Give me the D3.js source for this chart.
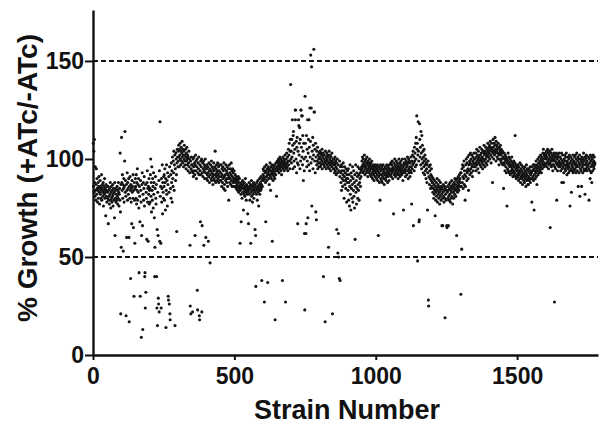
<!DOCTYPE html>
<html><head><meta charset="utf-8">
<script src="https://cdn.jsdelivr.net/npm/d3@7/dist/d3.min.js"></script>
<style>body{margin:0;background:#fff}svg{display:block}</style>
</head><body>
<svg id="c" width="613" height="425"></svg>
<script>
// % growth (+ATc/-ATc) per strain, in strain order (strain 1 .. N)
const growthA = [
108,86,104,83,110,88,81,96,84,79,87,95,82,90,85,78,84,88,80,86,91,83,77,85,89,82,86,80,84,92,79,85,87,83,81,88,76,84,86,82,90,80,85,83,71,87,81,84,78,86,
83,80,86,67,79,84,81,77,85,82,88,79,75,83,86,80,78,84,81,87,76,82,85,79,83,70,88,61,80,84,78,85,82,79,86,81,77,84,80,88,83,76,82,85,79,103,73,21,87,55,
111,88,84,92,80,87,53,85,90,78,86,99,114,83,89,81,20,87,60,84,93,79,88,85,82,90,60,17,86,80,91,84,39,87,78,85,67,89,83,86,80,92,65,84,30,88,79,57,85,90,
86,80,92,77,88,84,95,79,87,83,90,75,42,86,81,68,30,89,84,78,9,61,87,93,66,13,82,88,79,85,91,76,40,42,24,87,32,83,80,59,88,94,78,85,58,86,82,90,77,84,
85,78,92,100,81,88,73,96,84,79,90,86,75,93,82,88,70,40,55,85,91,80,77,87,40,24,64,15,83,61,29,26,89,22,94,58,119,81,86,57,24,90,78,85,97,72,88,83,80,91];
const growthB = [
86,92,79,95,88,74,90,14,84,97,82,89,76,93,87,30,28,91,83,26,96,21,18,85,92,80,98,88,94,78,101,90,86,99,93,104,84,97,102,15,95,89,103,100,92,63,98,105,101,96,
104,99,107,101,96,105,102,108,100,97,104,106,99,103,109,101,98,105,102,96,104,100,107,99,102,97,105,101,95,103,99,106,100,97,102,94,101,98,104,96,100,93,56,25,99,21,95,101,97,94,
97,22,93,100,91,96,101,94,98,92,61,97,102,94,99,90,96,100,33,23,93,98,95,101,92,20,18,97,94,68,99,92,96,100,22,66,93,98,91,95,99,56,94,97,90,96,100,93,60,95,
95,90,97,92,89,96,93,58,91,98,94,88,95,47,92,97,90,94,99,89,93,96,91,87,95,92,98,90,94,89,96,104,92,88,95,91,97,93,89,94,98,90,92,96,88,94,91,97,89,93,
93,89,97,91,86,95,92,88,96,90,94,85,98,91,87,95,84,92,89,97,90,94,88,93,96,86,92,90,95,79,91,97,88,93,90,95,87,92,98,89,94,86,91,95,88,93,90,86,94,89];
const growthC = [
90,88,92,86,89,91,85,88,90,87,84,89,86,91,83,88,85,90,86,57,84,87,82,68,88,85,80,86,89,83,87,74,85,82,88,84,81,86,90,83,85,79,87,84,82,86,72,83,85,67,
84,88,82,86,79,85,87,57,83,89,81,86,84,78,87,82,85,88,80,84,86,83,64,87,61,35,85,82,88,84,79,86,89,83,85,76,87,84,90,82,86,88,84,91,85,87,38,89,86,90,
92,95,89,94,91,27,96,90,93,88,68,94,97,91,89,95,92,37,93,96,90,94,87,95,92,98,91,84,94,96,90,93,97,58,92,95,89,94,96,91,93,97,90,18,95,92,98,94,81,96,
96,99,94,98,95,100,97,93,99,96,101,95,98,94,100,97,92,99,96,38,98,101,95,97,100,94,99,96,102,98,27,97,100,95,103,98,96,101,94,99,105,97,102,108,99,95,104,110,138,100,
104,98,110,101,120,107,95,112,114,103,99,108,96,105,125,120,125,100,109,93,106,111,98,67,104,97,120,117,102,108,116,95,110,99,125,125,106,122,101,122,97,112,104,89,108,100,94,62,23,132];
const growthD = [
108,101,62,67,112,96,105,99,120,70,103,110,97,120,106,94,126,101,109,153,98,126,147,76,104,100,111,95,107,102,156,124,124,99,105,93,108,73,101,69,97,104,99,106,95,102,98,100,96,103,
101,98,104,96,100,103,97,102,99,105,95,101,98,103,40,100,97,102,96,99,17,104,98,101,95,100,103,97,99,102,96,101,55,98,104,95,100,97,102,99,94,101,98,96,103,99,21,97,100,95,
98,95,100,93,97,101,94,99,96,92,98,64,95,100,93,52,97,62,50,94,39,99,91,38,96,93,88,97,84,94,90,96,86,92,98,89,94,80,91,96,87,93,89,85,95,90,78,92,88,94,
90,84,95,79,88,92,76,86,97,82,89,74,93,85,91,80,87,96,78,90,84,94,81,88,75,92,59,86,97,83,89,77,93,85,91,80,96,87,84,92,79,95,88,90,93,86,95,91,94,96,
99,95,101,97,93,100,96,98,94,102,97,92,99,95,100,96,93,98,101,94,97,91,99,95,98,93,96,100,94,97,92,98,95,91,96,99,93,95,90,97,94,92,96,89,95,93,97,91,94,96];
const growthE = [
93,96,90,95,92,97,89,94,61,91,96,93,88,95,79,92,97,90,94,89,96,92,88,95,91,97,93,90,94,87,95,92,96,90,93,89,95,91,97,92,94,88,96,91,93,95,89,97,92,94,
95,92,98,94,91,97,93,99,95,90,96,94,72,98,92,95,100,93,97,91,96,94,99,92,95,98,93,96,90,97,94,100,92,95,98,91,96,93,99,94,97,92,95,100,93,89,96,74,94,98,
97,93,100,95,91,98,94,99,96,92,97,101,94,98,90,100,95,93,99,96,91,98,94,101,96,93,77,99,95,102,97,104,66,98,101,94,106,99,103,96,108,100,111,97,122,105,108,48,102,119,
104,99,68,69,118,110,101,106,97,114,103,95,112,100,107,98,104,93,101,96,105,99,92,102,97,94,100,90,98,95,88,97,74,93,99,28,25,91,96,87,94,90,97,85,92,89,95,86,91,88,
88,83,90,85,80,87,82,89,84,71,86,79,83,88,81,85,90,78,84,87,82,86,80,89,83,77,85,81,88,84,79,86,82,66,85,80,66,83,87,81,78,84,86,80,19,85,82,88,79,84];
const growthF = [
66,65,83,86,80,84,66,81,87,79,85,82,88,78,84,86,80,83,89,81,85,77,87,83,86,80,88,84,82,90,85,87,81,89,84,61,86,90,83,88,85,91,87,84,89,92,86,90,88,93,
31,93,86,54,95,88,97,91,85,96,90,99,87,94,92,79,86,97,91,100,94,89,98,93,101,95,90,84,97,102,94,99,92,98,103,95,100,93,97,102,96,91,99,101,94,98,103,96,100,97,
100,96,103,98,94,101,105,97,99,102,95,100,104,98,93,101,99,106,97,102,100,96,103,99,105,98,101,95,104,100,97,103,107,99,102,96,104,100,106,98,103,101,97,105,102,108,99,104,101,106,
103,107,100,105,109,102,106,98,104,108,101,105,88,103,110,106,100,104,108,102,107,111,103,105,99,109,104,107,101,106,103,100,108,105,102,97,106,103,100,104,107,99,102,105,98,103,100,104,97,101,
101,85,98,103,97,100,94,102,99,96,101,93,98,76,100,95,99,103,94,97,101,93,98,96,100,92,97,99,94,96,101,93,95,98,91,97,94,99,92,96,93,98,112,91,95,97,90,94,96,92];
const growthG = [
95,91,97,93,89,96,92,94,90,98,93,88,95,91,97,90,94,92,87,96,91,93,89,95,92,88,96,90,94,91,86,93,97,89,92,95,90,87,94,87,91,95,89,93,90,96,88,92,94,90,
93,78,96,90,94,91,97,89,95,74,92,97,94,90,96,93,99,91,95,87,97,94,100,92,96,98,93,101,95,99,94,97,102,96,100,93,98,101,95,99,103,97,105,100,96,102,98,101,97,103,
102,97,100,104,96,101,98,105,99,103,95,100,102,97,104,98,65,101,99,103,96,100,105,97,102,94,99,101,97,103,100,27,96,102,99,95,101,98,103,79,97,100,94,102,98,101,96,99,103,97,
96,101,98,94,100,97,103,88,95,99,102,96,98,88,93,100,97,102,95,99,94,101,97,103,96,92,99,98,95,101,97,93,100,96,102,94,76,98,101,95,99,83,97,94,100,96,102,93,98,95,
99,94,101,97,95,102,98,93,100,96,103,97,94,99,101,86,96,100,93,98,102,81,97,95,100,94,99,86,101,96,98,93,100,97,103,95,99,94,101,82,97,100,95,98,102,94,99,96,101,97,
97,101,95,79,100,98,94,90,102,96,99,93,101,88,97,100,94,98,102,96,99,95,101,97,98];

const xTicks = [0, 500, 1000, 1500];
const yTicks = [0, 50, 100, 150];
const refLines = [50, 150];
const xTitle = "Strain Number";
const yTitle = "% Growth (+ATc/-ATc)";

const growth = [].concat(growthA, growthB, growthC, growthD, growthE, growthF, growthG);
const data = growth.map((v, i) => ({strain: i + 1, value: v}));

const FONT = "'Liberation Sans', Arial, Helvetica, sans-serif";
const svg = d3.select("#c");
const x = d3.scaleLinear().domain([0, 1786]).range([93, 598]);
const y = d3.scaleLinear().domain([0, 176]).range([355, 10]);

// reference dashed lines
svg.append("g").selectAll("line").data(refLines).join("line")
  .attr("x1", x(0)).attr("x2", x(1786))
  .attr("y1", d => y(d)).attr("y2", d => y(d))
  .attr("stroke", "#111").attr("stroke-width", 1.9)
  .attr("stroke-dasharray", "5,3");

// points
svg.append("g").selectAll("circle").data(data).join("circle")
  .attr("cx", d => x(d.strain)).attr("cy", d => y(d.value))
  .attr("r", 1.55).attr("fill", "#141414");

// axes
const yAxis = svg.append("g").attr("transform", `translate(${x(0)},0)`)
  .call(d3.axisLeft(y).tickValues(yTicks).tickFormat(d3.format("d")).tickSize(8).tickPadding(1).tickSizeOuter(0));
const xAxis = svg.append("g").attr("transform", `translate(0,${y(0)})`)
  .call(d3.axisBottom(x).tickValues(xTicks).tickFormat(d3.format("d")).tickSize(5).tickPadding(8).tickSizeOuter(0));
[yAxis, xAxis].forEach(g => {
  g.select(".domain").attr("stroke", "#111").attr("stroke-width", 2.4);
  g.selectAll(".tick line").attr("stroke", "#111").attr("stroke-width", 2);
  g.selectAll(".tick text").attr("fill", "#111")
    .style("font-family", FONT).style("font-weight", "bold").style("font-size", "23px");
});

svg.append("text").attr("x", 347).attr("y", 419).attr("text-anchor", "middle")
  .style("font-family", FONT).style("font-weight", "bold").style("font-size", "27px")
  .attr("fill", "#111").text(xTitle);
svg.append("text").attr("transform", "translate(37,178) rotate(-90)").attr("text-anchor", "middle")
  .style("font-family", FONT).style("font-weight", "bold").style("font-size", "28px")
  .attr("fill", "#111").text(yTitle);
</script>
</body></html>
